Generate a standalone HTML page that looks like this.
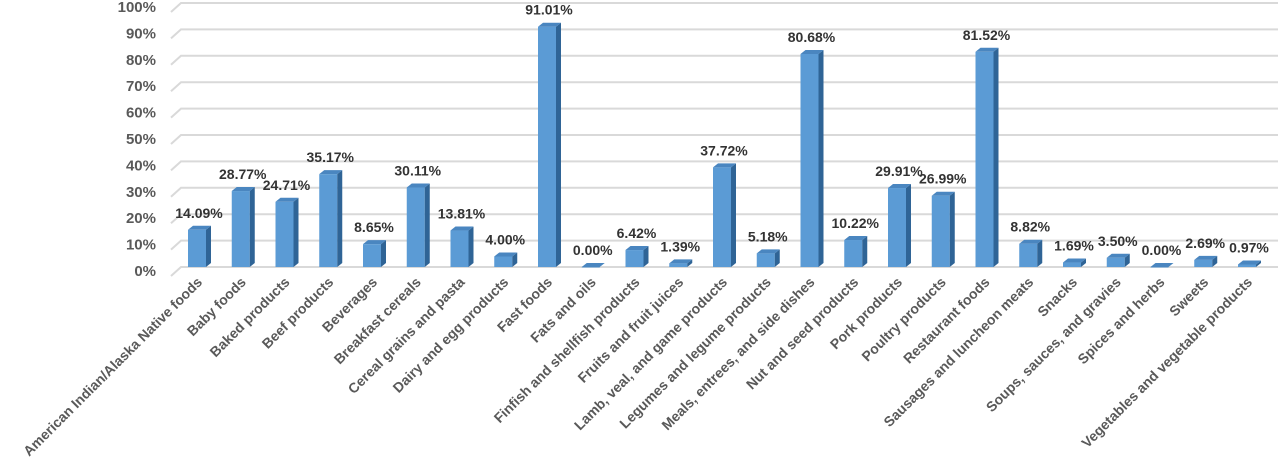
<!DOCTYPE html>
<html><head><meta charset="utf-8"><style>
body{margin:0;background:#fff;}
svg{display:block;font-family:"Liberation Sans",Arial,sans-serif;font-weight:bold;}
</style></head><body>
<svg id="chart" width="1280" height="461" viewBox="0 0 1280 461"></svg>
<script>
const categories=["American Indian/Alaska Native foods","Baby foods","Baked products","Beef products","Beverages","Breakfast cereals","Cereal grains and pasta","Dairy and egg products","Fast foods","Fats and oils","Finfish and shellfish products","Fruits and fruit juices","Lamb, veal, and game products","Legumes and legume products","Meals, entrees, and side dishes","Nut and seed products","Pork products","Poultry products","Restaurant foods","Sausages and luncheon meats","Snacks","Soups, sauces, and gravies","Spices and herbs","Sweets","Vegetables and vegetable products"];
const values=[14.09,28.77,24.71,35.17,8.65,30.11,13.81,4.00,91.01,0.00,6.42,1.39,37.72,5.18,80.68,10.22,29.91,26.99,81.52,8.82,1.69,3.50,0.00,2.69,0.97];
const yTicks=[0,10,20,30,40,50,60,70,80,90,100];

const NS="http://www.w3.org/2000/svg";
const svg=document.getElementById('chart');
const y0=267, yScale=2.64, x0=188, step=43.75, bw=18, dx=5, dy=4;
const yPos=v=>y0-v*yScale;
const xPos=i=>x0+i*step;
function mk(tag,attrs){const e=document.createElementNS(NS,tag);for(const k in attrs)e.setAttribute(k,attrs[k]);svg.appendChild(e);return e;}

yTicks.forEach(t=>{
  const y=yPos(t);
  const g=mk('polyline',{points:`171,${y+9} 181,${y} 1278,${y}`,fill:'none',stroke:'#d9d9d9','stroke-width':2});
  
  
  const l=mk('text',{x:156,y:y+9,'text-anchor':'end','font-size':15,fill:'#595959'});
  l.textContent=t+'%';
  
  
});

values.forEach((v,i)=>{
  const x=xPos(i), top=yPos(v), h=y0-top;
  const front=mk('rect',{x:x,y:top,width:bw,height:Math.max(h,0.5),fill:'#5b9bd5'});
  
  
  const side=mk('polygon',{points:`${x+bw},${top} ${x+bw+dx},${top-dy} ${x+bw+dx},${y0-dy} ${x+bw},${y0}`,fill:'#2f6496'});
  
  
  const tp=mk('polygon',{points:`${x},${top} ${x+dx},${top-dy} ${x+bw+dx},${top-dy} ${x+bw},${top}`,fill:'#4a86c0'});
  
  
  const lbl=mk('text',{x:x+bw/2+2,y:top-12,'text-anchor':'middle','font-size':14,fill:'#333'});
  lbl.textContent=v.toFixed(2)+'%';
  
  
  const cx=x+bw/2+6, cy=283;
  const cl=mk('text',{x:cx,y:cy,'text-anchor':'end','font-size':14,fill:'#595959',transform:`rotate(-45 ${cx} ${cy})`});
  cl.textContent=categories[i];
  
  
});
</script>
</body></html>
